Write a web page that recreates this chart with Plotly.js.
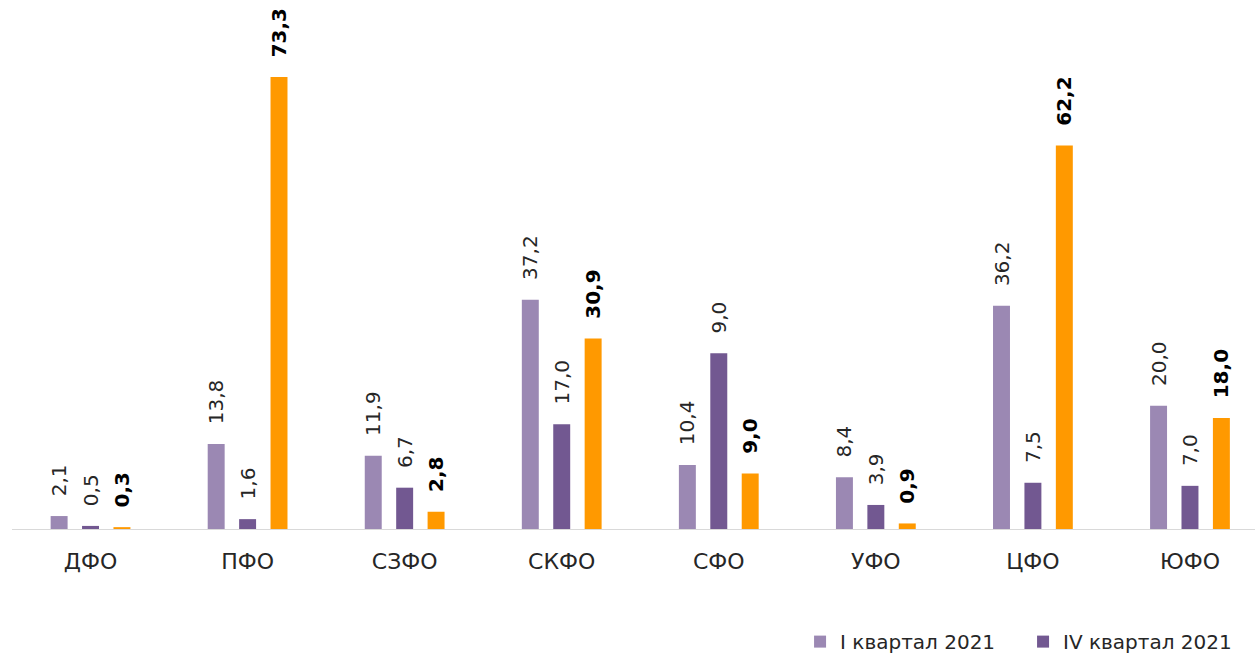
<!DOCTYPE html>
<html>
<head>
<meta charset="utf-8">
<script src="https://cdn.plot.ly/plotly-3.0.1.min.js"></script>
<style>html,body{margin:0;padding:0;background:#fff;overflow:hidden;width:1255px;height:654px;}#chart{width:1255px;height:672px;}</style>
</head>
<body>
<div id="chart"></div>
<script>
const categories = ['ДФО', 'ПФО', 'СЗФО', 'СКФО', 'СФО', 'УФО', 'ЦФО', 'ЮФО'];
const seriesNames = ['I квартал 2021', 'IV квартал 2021', 'I квартал 2022'];
const q1Values = [2.1, 13.8, 11.9, 37.2, 10.4, 8.4, 36.2, 20.0];
const q4Values = [0.5, 1.6, 6.7, 17.0, 28.5, 3.9, 7.5, 7.0];
const q1y22Values = [0.3, 73.3, 2.8, 30.9, 9.0, 0.9, 62.2, 18.0];
const q1Labels = ['2,1', '13,8', '11,9', '37,2', '10,4', '8,4', '36,2', '20,0'];
const q4Labels = ['0,5', '1,6', '6,7', '17,0', '9,0', '3,9', '7,5', '7,0'];
const q1y22Labels = ['0,3', '73,3', '2,8', '30,9', '9,0', '0,9', '62,2', '18,0'];

const pad = '\u00a0\u00a0\u2009';
const FONT = 'DejaVu Sans, Arial, sans-serif';

function mk(name, vals, labels, color, bold, showleg) {
  return {
    type: 'bar', name: name, x: categories, y: vals,
    text: labels.map(s => pad + (bold ? '<b>' + s + '</b>' : s)),
    textposition: 'outside', textangle: -90, cliponaxis: false,
    constraintext: 'none',
    outsidetextfont: {family: FONT, size: 20, color: bold ? '#000000' : '#262626'},
    marker: {color: color},
    hoverinfo: 'none', showlegend: showleg
  };
}

const data = [
  mk(seriesNames[0], q1Values, q1Labels, '#9b88b3', false, true),
  mk(seriesNames[1], q4Values, q4Labels, '#725891', false, true),
  mk(seriesNames[2], q1y22Values, q1y22Labels, '#ff9900', true, false)
];

const layout = {
  width: 1255, height: 672,
  margin: {l: 12, r: 0, t: 0, b: 143, pad: 0},
  paper_bgcolor: '#ffffff', plot_bgcolor: '#ffffff',
  barmode: 'group', bargap: 0.4, bargroupgap: 0.46,
  font: {family: FONT, color: '#262626'},
  xaxis: {
    range: [-0.5, 7.414], showline: true, linecolor: '#d9d9d9', linewidth: 1,
    ticks: '', showgrid: false, zeroline: false, automargin: false,
    tickfont: {family: FONT, size: 22, color: '#262626'},
    ticklabelstandoff: 13, fixedrange: true
  },
  yaxis: {
    range: [0, 85.8], visible: false, showgrid: false, zeroline: false, fixedrange: true
  },
  showlegend: true,
  legend: {
    orientation: 'h', x: 0.634, xanchor: 'left', y: -0.176, yanchor: 'top',
    font: {family: FONT, size: 20, color: '#262626'},
    entrywidth: 178, entrywidthmode: 'pixels', bgcolor: 'rgba(0,0,0,0)'
  }
};

Plotly.newPlot('chart', data, layout, {displayModeBar: false, staticPlot: true});
</script>
</body>
</html>
